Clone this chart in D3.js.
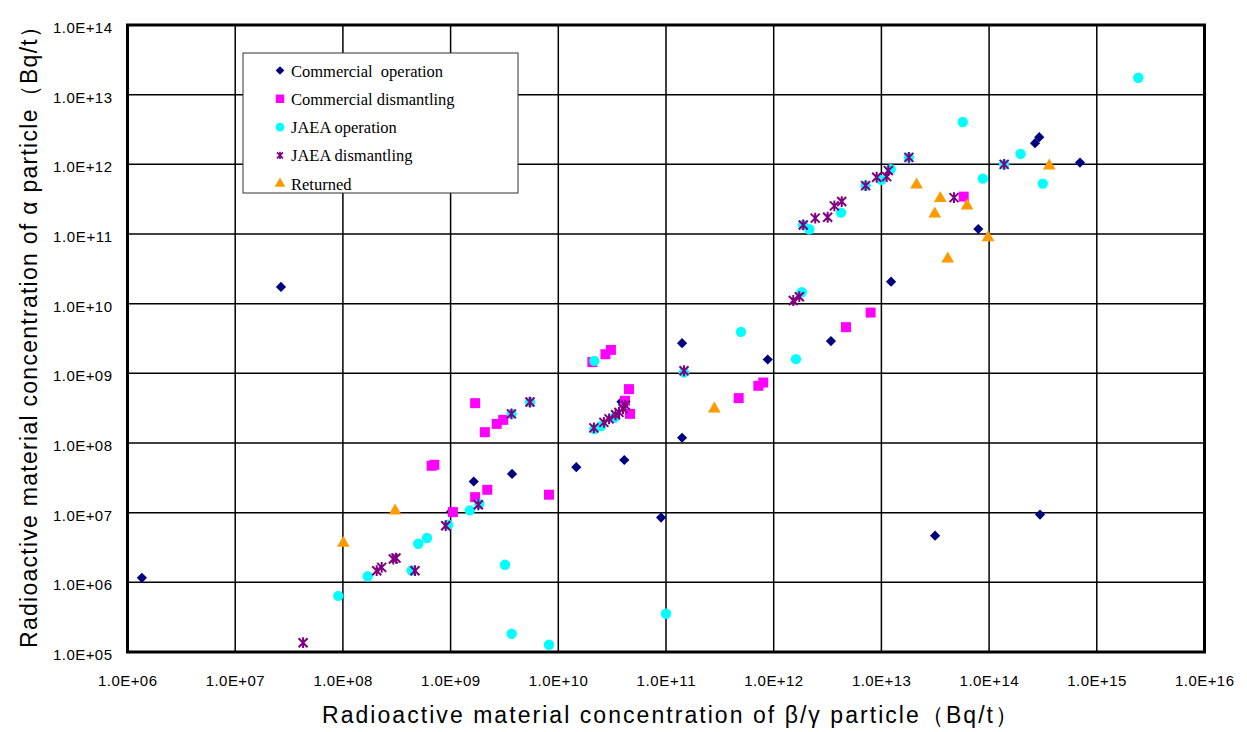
<!DOCTYPE html>
<html>
<head>
<meta charset="utf-8">
<script src="https://cdn.jsdelivr.net/npm/d3@7"></script>
<style>
  body { margin: 0; background: #fff; }
  svg { display: block; }
</style>
</head>
<body>
<svg id="chart"></svg>
<script>
// values, [beta/gamma, alpha] in Bq/t
const commercialOperation = [
  [1.36e6, 1.16e6], [2.66e7, 1.74e10], [1.64e9, 2.8e7], [3.72e9, 3.6e7], [1.47e10, 4.5e7],
  [4.1e10, 5.7e7], [9.0e10, 8.5e6], [1.41e11, 2.71e9], [1.41e11, 1.19e8], [8.8e11, 1.58e9],
  [1.23e13, 2.07e10], [3.4e12, 2.9e9], [7.94e13, 1.18e11], [6.98e14, 1.06e12], [2.67e14, 2.01e12],
  [2.92e14, 2.45e12], [3.15e13, 4.67e6], [2.97e14, 9.4e6], [3.86e10, 3.9e8], [1.01e9, 1.03e7]
];
const commercialDismantling = [
  [1.69e9, 3.73e8], [2.08e9, 1.43e8], [2.68e9, 1.88e8], [3.08e9, 2.15e8], [6.67e8, 4.71e7],
  [7.06e8, 4.86e7], [2.19e9, 2.13e7], [1.69e9, 1.67e7], [1.05e9, 1.02e7], [8.2e9, 1.81e7],
  [4.53e10, 5.93e8], [4.16e10, 4.04e8], [4.63e10, 2.62e8], [2.07e10, 1.45e9], [2.74e10, 1.88e9],
  [3.08e10, 2.17e9], [4.73e11, 4.41e8], [7.2e11, 6.62e8], [8.0e11, 7.38e8], [7.94e12, 7.45e9],
  [4.69e12, 4.6e9], [5.81e13, 3.44e11]
];
const jaeaOperation = [
  [9.06e7, 6.4e5], [1.7e8, 1.22e6], [4.35e8, 1.48e6], [5.01e8, 3.58e6], [6.04e8, 4.33e6],
  [9.5e8, 6.7e6], [1.51e9, 1.08e7], [1.85e9, 1.33e7], [3.2e9, 1.79e6], [3.69e9, 1.83e5],
  [8.2e9, 1.27e5], [3.69e9, 2.62e8], [5.46e9, 3.87e8], [2.16e10, 1.58e8], [2.5e10, 1.75e8],
  [3.3e10, 2.3e8], [1.0e11, 3.54e5], [2.16e10, 1.51e9], [4.97e11, 3.94e9], [1.61e12, 1.6e9],
  [1.47e11, 1.03e9], [1.82e12, 1.46e10], [2.14e12, 1.17e11], [4.22e12, 2.03e11], [1.87e12, 1.35e11],
  [1.0e13, 5.97e11], [1.22e13, 8.5e11], [1.8e13, 1.26e12], [7.14e12, 4.95e11], [8.74e13, 6.24e11],
  [1.96e14, 1.41e12], [1.38e14, 1.0e12], [5.69e13, 4.05e12], [2.43e15, 1.75e13], [3.15e14, 5.29e11]
];
const jaeaDismantling = [
  [4.27e7, 1.36e5], [2.06e8, 1.47e6], [2.29e8, 1.64e6], [2.94e8, 2.16e6], [3.11e8, 2.23e6],
  [4.67e8, 1.47e6], [9.0e8, 6.5e6], [1.81e9, 1.3e7], [3.67e9, 2.62e8], [5.46e9, 3.87e8],
  [2.14e10, 1.65e8], [2.65e10, 1.98e8], [2.96e10, 2.22e8], [3.4e10, 2.54e8], [3.66e10, 2.75e8],
  [3.99e10, 3.1e8], [4.2e10, 3.5e8], [1.47e11, 1.09e9], [1.52e12, 1.11e10], [1.73e12, 1.26e10],
  [1.88e12, 1.35e11], [2.43e12, 1.69e11], [3.17e12, 1.74e11], [3.66e12, 2.53e11], [4.28e12, 2.92e11],
  [7.14e12, 4.95e11], [9.04e12, 6.53e11], [1.12e13, 6.67e11], [1.16e13, 8.13e11], [1.8e13, 1.26e12],
  [4.72e13, 3.33e11], [1.38e14, 1.0e12]
];
const returned = [
  [1.01e8, 3.66e6], [3.05e8, 1.06e7], [2.81e11, 3.1e8], [2.12e13, 5.06e11], [3.52e13, 3.26e11],
  [3.13e13, 1.94e11], [6.24e13, 2.53e11], [4.13e13, 4.4e10], [9.78e13, 8.87e10], [3.62e14, 9.48e11]
];

const xTicks = [1e6, 1e7, 1e8, 1e9, 1e10, 1e11, 1e12, 1e13, 1e14, 1e15, 1e16];
const yTicks = [1e5, 1e6, 1e7, 1e8, 1e9, 1e10, 1e11, 1e12, 1e13, 1e14];

const width = 1247, height = 732;
const margin = { left: 127.5, right: 42.5, top: 25, bottom: 80 };

var svg = d3.select("#chart")
    .attr("width", width)
    .attr("height", height)

var x = d3.scaleLog()
    .domain([1e6, 1e16])
    .range([margin.left, width - margin.right])
var y = d3.scaleLog()
    .domain([1e5, 1e14])
    .range([height - margin.bottom, margin.top])

const fmt = d => "1.0E+" + String(Math.round(Math.log10(d))).padStart(2, "0");
const tickFont = '15px "Liberation Sans", Arial, sans-serif';
const titleFont = '23px "Liberation Sans", Arial, sans-serif';

// grid lines
svg.append('g')
    .selectAll('line')
    .data(xTicks)
    .enter()
    .append('line')
    .attr('x1', d => x(d)).attr('x2', d => x(d))
    .attr('y1', margin.top).attr('y2', height - margin.bottom)
    .attr('stroke', '#000')
    .attr('stroke-width', 1.5)
svg.append('g')
    .selectAll('line')
    .data(yTicks)
    .enter()
    .append('line')
    .attr('y1', d => y(d)).attr('y2', d => y(d))
    .attr('x1', margin.left).attr('x2', width - margin.right)
    .attr('stroke', '#000')
    .attr('stroke-width', 1.5)

// frame
svg.append('rect')
    .attr('x', margin.left).attr('y', margin.top)
    .attr('width', width - margin.left - margin.right)
    .attr('height', height - margin.top - margin.bottom)
    .attr('fill', 'none')
    .attr('stroke', '#000')
    .attr('stroke-width', 3)

// tick labels (the original font is wider, so stretch the spacing a bit)
svg.append('g')
    .selectAll('text')
    .data(xTicks)
    .enter()
    .append('text')
    .attr('x', d => x(d) - 29.5)
    .attr('y', height - margin.bottom + 34)
    .attr('textLength', 59)
    .attr('lengthAdjust', 'spacing')
    .style('font', tickFont)
    .text(fmt)
svg.append('g')
    .selectAll('text')
    .data(yTicks)
    .enter()
    .append('text')
    .attr('x', margin.left - 74.5)
    .attr('y', d => y(d) + 8)
    .attr('textLength', 59)
    .attr('lengthAdjust', 'spacing')
    .style('font', tickFont)
    .text(fmt)

// axis titles
svg.append('text')
    .attr('x', 322).attr('y', 723)
    .attr('textLength', 696)
    .attr('lengthAdjust', 'spacing')
    .style('font', titleFont)
    .text('Radioactive material concentration of β/γ particle（Bq/t）')
svg.append('text')
    .attr('transform', 'translate(37,648) rotate(-90)')
    .attr('textLength', 633)
    .attr('lengthAdjust', 'spacing')
    .style('font', titleFont)
    .text('Radioactive material concentration of α particle（Bq/t）')

// marker shapes
const starPath = (r) => {
    var p = d3.path();
    p.moveTo(-r, -r); p.lineTo(r, r);
    p.moveTo(r, -r); p.lineTo(-r, r);
    p.moveTo(0, -r * 1.2); p.lineTo(0, r * 1.2);
    return p.toString();
};

const series = [
    { label: 'Commercial\u00a0 operation', data: commercialOperation, color: '#000080', shape: d3.symbol(d3.symbolSquare, 52)(), rotate: 45, fill: true },
    { label: 'Commercial dismantling', data: commercialDismantling, color: '#FF00FF', shape: d3.symbol(d3.symbolSquare, 100)(), rotate: 0, fill: true },
    { label: 'JAEA operation', data: jaeaOperation, color: '#00FFFF', shape: d3.symbol(d3.symbolCircle, 85)(), rotate: 0, fill: true },
    { label: 'JAEA dismantling', data: jaeaDismantling, color: '#800080', shape: starPath(4.5), rotate: 0, fill: false },
    { label: 'Returned', data: returned, color: '#FF9900', shape: d3.symbol(d3.symbolTriangle, 70)(), rotate: 0, fill: true }
];

series.forEach(s => {
    svg.append('g')
        .selectAll('path')
        .data(s.data)
        .enter()
        .append('path')
        .attr('d', s.shape)
        .attr('transform', d => `translate(${x(d[0])},${y(d[1])}) rotate(${s.rotate})`)
        .attr('fill', s.fill ? s.color : 'none')
        .attr('stroke', s.fill ? 'none' : s.color)
        .attr('stroke-width', 2)
});

// legend
var legend = svg.append('g').attr('transform', 'translate(243,53)')
legend.append('rect')
    .attr('width', 275).attr('height', 140)
    .attr('fill', '#fff')
    .attr('stroke', '#333')
    .attr('stroke-width', 1)
var items = legend.selectAll('g')
    .data(series)
    .enter()
    .append('g')
    .attr('transform', (d, i) => `translate(0,${17.5 + i * 28.3})`)
items.append('path')
    .attr('d', d => d.label === 'JAEA dismantling' ? starPath(3.5) : d.shape)
    .attr('transform', d => `translate(37,0) scale(0.85) rotate(${d.rotate})`)
    .attr('fill', d => d.fill ? d.color : 'none')
    .attr('stroke', d => d.fill ? 'none' : d.color)
    .attr('stroke-width', 2)
items.append('text')
    .attr('x', 48).attr('y', 6)
    .style('font', '16.5px "Liberation Serif", "Times New Roman", serif')
    .text(d => d.label)
</script>
</body>
</html>
